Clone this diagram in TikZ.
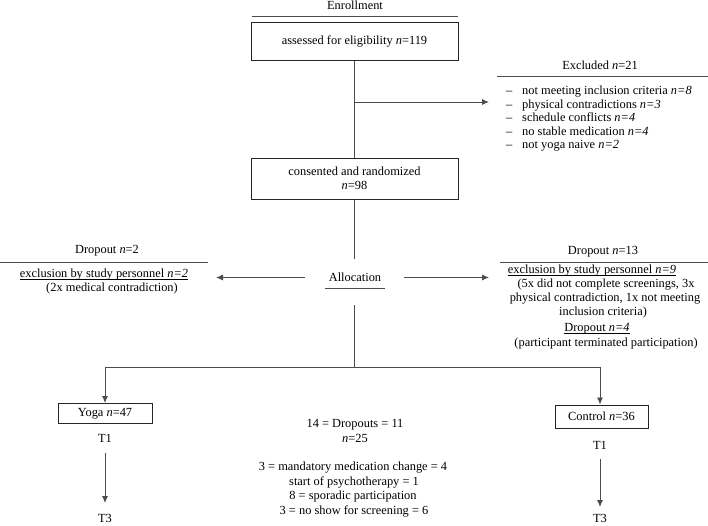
\documentclass[tikz,border=0pt]{standalone}
\usepackage{fontspec}
\setmainfont{Liberation Serif}
\usetikzlibrary{arrows.meta}
\newcommand\myul[1]{\setbox0\hbox{#1}\rlap{\rule[-1.8pt]{\wd0}{0.5pt}}\box0}
\begin{document}
\begin{tikzpicture}[x=1pt,y=-1pt,
  txt/.style={inner sep=0pt, font=\fontsize{12.4}{14}\selectfont, text height=8pt, text depth=2.5pt},
  boxn/.style={draw=black!85, line width=1pt, inner sep=0pt, align=center, font=\fontsize{12.4}{14.5}\selectfont},
  conn/.style={draw=black!70, line width=0.9pt},
  rulel/.style={draw=black!70, line width=0.9pt},
  arr/.style={conn, -{Latex[length=7pt,width=6pt]}}
]
\useasboundingbox (0,0) rectangle (708,525);

% Enrollment
\node[txt] (enr) at (355,7) {Enrollment};
\coordinate (er1) at (252,16.5);
\coordinate (er2) at (458,16.5);
\draw[rulel] (er1) -- (er2);

\node[boxn, minimum width=207pt, minimum height=38pt] (assess) at (354.5,41) {assessed for eligibility \textit{n}=119};
\node[boxn, minimum width=207pt, minimum height=41pt] (rand) at (354.5,178.5) {consented and randomized\\\textit{n}=98};

\draw[conn] (assess.south) -- (rand.north);
\coordinate (b1) at (354.5,102);
\coordinate (e1) at (489,102);
\draw[arr] (b1) -- (e1);

% Excluded
\node[txt] (exh) at (600,67) {Excluded \textit{n}=21};
\coordinate (xr1) at (497,76.5);
\coordinate (xr2) at (708,76.5);
\draw[rulel] (xr1) -- (xr2);
\foreach \i/\t/\yy in {1/{not meeting inclusion criteria \textit{n=8}}/92,
                        2/{physical contradictions \textit{n=3}}/105.5,
                        3/{schedule conflicts \textit{n=4}}/119,
                        4/{no stable medication \textit{n=4}}/132.5,
                        5/{not yoga naive \textit{n=2}}/146}{
  \node[txt, anchor=west] (exd\i) at (506,\yy) {–};
  \node[txt, anchor=west] (ex\i) at (522,\yy) {\t};
}

% Allocation
\coordinate (a0) at (354.5,259);
\draw[conn] (rand.south) -- (a0);
\node[txt] (alloc) at (355,279) {Allocation};
\coordinate (al1) at (325,288.5);
\coordinate (al2) at (385,288.5);
\draw[rulel] (al1) -- (al2);
\coordinate (a1) at (354.5,305);
\coordinate (hm) at (354.5,367);
\coordinate (hl) at (105,367);
\coordinate (hr) at (600,367);
\draw[conn] (a1) -- (hm);
\draw[conn] (hl) -- (hr);

\coordinate (la1) at (305,277.5);
\coordinate (la2) at (216,277.5);
\draw[arr] (la1) -- (la2);
\coordinate (ra1) at (404,277.5);
\coordinate (ra2) at (489,277.5);
\draw[arr] (ra1) -- (ra2);

% Left dropout
\node[txt] (ld0) at (107,251) {Dropout \textit{n}=2};
\coordinate (lr1) at (0,262);
\coordinate (lr2) at (208,262);
\draw[rulel] (lr1) -- (lr2);
\node[txt] (ld1) at (104,275) {\myul{exclusion by study personnel \textit{n=2}}};
\node[txt] (ld2) at (112,289) {(2x medical contradiction)};

% Right dropout
\node[txt] (rd0) at (603,252) {Dropout \textit{n}=13};
\coordinate (rr1) at (500,262);
\coordinate (rr2) at (708,262);
\draw[rulel] (rr1) -- (rr2);
\node[txt] (rd1) at (592,271) {\myul{exclusion by study personnel \textit{n=9}}};
\node[txt] (rd2) at (606,285) {(5x did not complete screenings, 3x};
\node[txt] (rd3) at (605,299) {physical contradiction, 1x not meeting};
\node[txt] (rd4) at (603,313) {inclusion criteria)};
\node[txt] (rd5) at (597,329) {\myul{Dropout \textit{n=4}}};
\node[txt] (rd6) at (606,344) {(participant terminated participation)};

% Groups
\node[boxn, minimum width=94pt, minimum height=20pt] (yoga) at (105,413.5) {Yoga \textit{n}=47};
\node[boxn, minimum width=93pt, minimum height=23pt] (ctrl) at (601.5,416.5) {Control \textit{n}=36};
\draw[arr] (hl) -- (yoga.north);
\draw[arr] (hr) -- (hr |- ctrl.north);

\node[txt] (t1l) at (105,440) {T1};
\node[txt] (t3l) at (105,520) {T3};
\draw[arr, shorten <=7.5pt, shorten >=11.5pt] (t1l.south) -- (t3l.north);
\node[txt] (t1r) at (600,447) {T1};
\node[txt] (t3r) at (600,520) {T3};
\draw[arr, shorten <=6.5pt, shorten >=7.5pt] (t1r.south) -- (t3r.north);

% Center text
\node[txt] (c1) at (355,425) {14 = Dropouts = 11};
\node[txt] (c2) at (355,440) {\textit{n}=25};
\node[txt] (c3) at (353,468) {3 = mandatory medication change = 4};
\node[txt] (c4) at (354,482.5) {start of psychotherapy = 1};
\node[txt] (c5) at (353,497) {8 = sporadic participation};
\node[txt] (c6) at (354,511.5) {3 = no show for screening = 6};
\end{tikzpicture}
\end{document}
